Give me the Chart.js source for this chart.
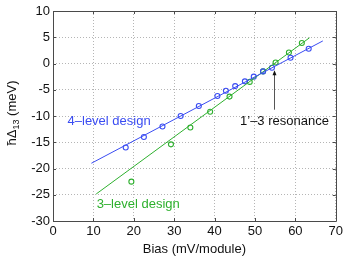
<!DOCTYPE html>
<html>
<head>
<meta charset="utf-8">
<script src="https://cdn.jsdelivr.net/npm/chart.js@4"></script>
<style>
html,body{margin:0;padding:0;background:#fff;}
#c{display:block;}
</style>
</head>
<body>
<canvas id="c" width="346" height="258"></canvas>
<script>
// ---- data ----
const xTicks = [0, 10, 20, 30, 40, 50, 60, 70];
const yTicks = [-30, -25, -20, -15, -10, -5, 0, 5, 10];

const blueBias = [18, 22.5, 27.1, 31.6, 36.1, 40.7, 42.8, 45.1, 47.5, 49.7, 52.0, 54.2, 58.8, 63.3];
const blueDelta = [-16.0, -14.0, -12.0, -10.0, -8.1, -6.2, -5.2, -4.3, -3.4, -2.5, -1.5, -0.8, 1.1, 2.8];

const greenBias = [19.4, 29.2, 34.0, 38.9, 43.7, 48.7, 52.0, 55.1, 58.4, 61.6];
const greenDelta = [-22.5, -15.4, -12.2, -9.2, -6.3, -3.5, -1.5, 0.2, 2.1, 3.9];

const blueFitBias = [9.5, 66.8];
const blueFitDelta = [-19.0, 4.3];
const greenFitBias = [10.7, 63.5];
const greenFitDelta = [-24.85, 4.9];

const labels4 = { text: '4\u2013level design', x: 3.6, y: -11.1 };
const labels3 = { text: '3\u2013level design', x: 10.8, y: -26.8 };
const resonance = { text: '1\u2019\u20133 resonance', x: 57.3, y: -11.1, arrowX: 54.6, arrowFrom: -8.8, arrowTo: -1.3 };

const BLUE = '#3a4cf2';
const GREEN = '#2eb02e';
const FONT = '"Liberation Sans", Arial, Helvetica, sans-serif';

function pts(xs, ys) { return xs.map((x, i) => ({ x: x, y: ys[i] })); }

const framePlugin = {
  id: 'frame',
  afterDatasetsDraw(chart) {
    const { ctx, chartArea: a, scales } = chart;
    const xs = scales.x, ys = scales.y;
    ctx.save();
    ctx.strokeStyle = '#4a4a4a';
    ctx.lineWidth = 1;
    ctx.beginPath();
    ctx.rect(Math.round(a.left) + 0.5, Math.round(a.top) + 0.5, Math.round(a.right - a.left), Math.round(a.bottom - a.top));
    ctx.stroke();
    const tl = 3;
    ctx.beginPath();
    xTicks.forEach(v => {
      const p = Math.round(xs.getPixelForValue(v)) + 0.5;
      ctx.moveTo(p, a.bottom); ctx.lineTo(p, a.bottom - tl);
      ctx.moveTo(p, a.top); ctx.lineTo(p, a.top + tl);
    });
    yTicks.forEach(v => {
      const p = Math.round(ys.getPixelForValue(v)) + 0.5;
      ctx.moveTo(a.left, p); ctx.lineTo(a.left + tl, p);
      ctx.moveTo(a.right, p); ctx.lineTo(a.right - tl, p);
    });
    ctx.stroke();

    // text labels
    ctx.font = '13px ' + FONT;
    ctx.textBaseline = 'middle';
    ctx.textAlign = 'left';
    ctx.fillStyle = BLUE;
    ctx.fillText(labels4.text, xs.getPixelForValue(labels4.x), ys.getPixelForValue(labels4.y));
    ctx.fillStyle = GREEN;
    ctx.fillText(labels3.text, xs.getPixelForValue(labels3.x), ys.getPixelForValue(labels3.y));
    ctx.fillStyle = '#111';
    ctx.textAlign = 'center';
    ctx.fillText(resonance.text, xs.getPixelForValue(resonance.x), ys.getPixelForValue(resonance.y));

    // arrow
    const ax = Math.round(xs.getPixelForValue(resonance.arrowX)) + 0.5;
    const y0 = ys.getPixelForValue(resonance.arrowFrom);
    const y1 = ys.getPixelForValue(resonance.arrowTo);
    ctx.strokeStyle = '#555';
    ctx.fillStyle = '#111';
    ctx.beginPath();
    ctx.moveTo(ax, y0); ctx.lineTo(ax, y1 + 3);
    ctx.stroke();
    ctx.beginPath();
    ctx.moveTo(ax, y1);
    ctx.lineTo(ax - 2, y1 + 5);
    ctx.lineTo(ax + 2, y1 + 5);
    ctx.closePath();
    ctx.fill();

    // y axis title with subscript
    const cy = (a.top + a.bottom) / 2 - 3;
    ctx.save();
    ctx.translate(11, cy);
    ctx.rotate(-Math.PI / 2);
    ctx.fillStyle = '#111';
    ctx.textAlign = 'left';
    ctx.textBaseline = 'alphabetic';
    const big = '13px ' + FONT, small = '9px ' + FONT;
    ctx.font = big; const w1 = ctx.measureText('\u0127\u0394').width;
    ctx.font = small; const w2 = ctx.measureText('13').width;
    ctx.font = big; const w3 = ctx.measureText(' (meV)').width;
    let x = -(w1 + w2 + w3) / 2;
    const base = 4.5;
    ctx.font = big; ctx.fillText('\u0127\u0394', x, base); x += w1;
    ctx.font = small; ctx.fillText('13', x, base + 3); x += w2;
    ctx.font = big; ctx.fillText(' (meV)', x, base);
    ctx.restore();
    ctx.restore();
  }
};

new Chart(document.getElementById('c'), {
  type: 'scatter',
  data: {
    datasets: [
      { data: pts(blueFitBias, blueFitDelta), showLine: true, borderColor: BLUE, borderWidth: 1, pointRadius: 0, fill: false },
      { data: pts(greenFitBias, greenFitDelta), showLine: true, borderColor: GREEN, borderWidth: 1, pointRadius: 0, fill: false },
      { data: pts(blueBias, blueDelta), showLine: false, borderColor: BLUE, backgroundColor: 'rgba(0,0,0,0)', pointRadius: 2.5, pointBorderWidth: 1.1 },
      { data: pts(greenBias, greenDelta), showLine: false, borderColor: GREEN, backgroundColor: 'rgba(0,0,0,0)', pointRadius: 2.5, pointBorderWidth: 1.1 }
    ]
  },
  options: {
    responsive: false,
    devicePixelRatio: 1,
    animation: false,
    layout: { padding: { left: 0, right: 10, top: 11, bottom: 1 } },
    plugins: { legend: { display: false }, tooltip: { enabled: false } },
    scales: {
      x: {
        type: 'linear', min: 0, max: 70,
        afterBuildTicks: s => { s.ticks = xTicks.map(v => ({ value: v })); },
        afterFit: s => { s.height = 36; },
        grid: { color: '#b5b5b5', lineWidth: 1, drawTicks: false },
        border: { display: false, dash: [1, 2] },
        ticks: { color: '#111', font: { family: FONT, size: 13 }, padding: 3, maxRotation: 0 },
        title: { display: true, text: 'Bias (mV/module)', color: '#111', font: { family: FONT, size: 13 }, padding: { top: 0, bottom: 0 } }
      },
      y: {
        type: 'linear', min: -30, max: 10,
        afterBuildTicks: s => { s.ticks = yTicks.map(v => ({ value: v })); },
        afterFit: s => { s.width = 53; },
        grid: { color: '#b5b5b5', lineWidth: 1, drawTicks: false },
        border: { display: false, dash: [1, 2] },
        ticks: { color: '#111', font: { family: FONT, size: 13 }, padding: 3 }
      }
    }
  },
  plugins: [framePlugin]
});
</script>
</body>
</html>
